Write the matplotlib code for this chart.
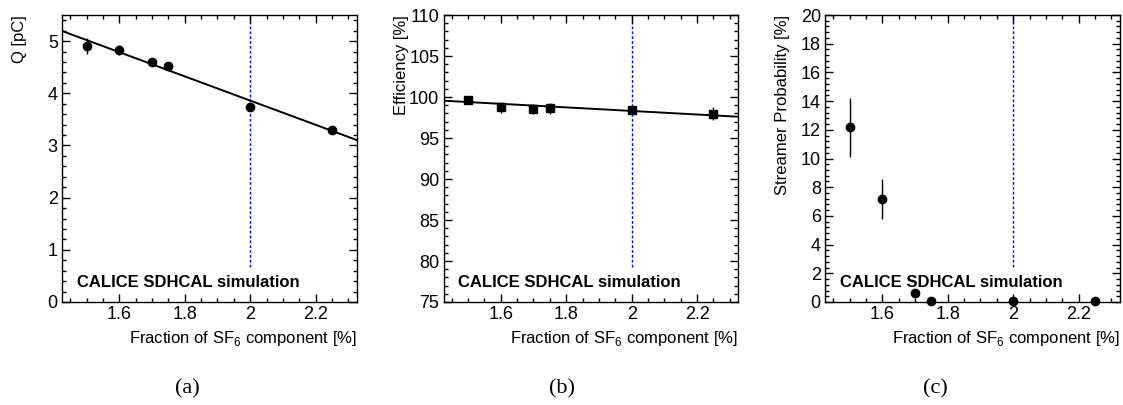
import matplotlib
matplotlib.use("Agg")
import matplotlib.pyplot as plt
import numpy as np
from matplotlib.ticker import MultipleLocator, FormatStrFormatter

plt.rcParams['font.family'] = ['Liberation Sans', 'DejaVu Sans']
plt.rcParams['mathtext.fontset'] = 'custom'
plt.rcParams['mathtext.rm'] = 'Liberation Sans'

# ---- data ----
sf6 = [1.5, 1.6, 1.7, 1.75, 2.0, 2.25]

charge = [4.91, 4.83, 4.60, 4.52, 3.73, 3.30]
charge_err = [0.15, 0.09, 0.08, 0.08, 0.05, 0.04]
charge_fit = [8.50, -2.32]          # intercept, slope

eff = [99.63, 98.74, 98.57, 98.6, 98.4, 97.96]
eff_err = [0.5, 0.7, 0.6, 0.7, 0.5, 0.8]
eff_fit = [102.64, -2.17]

streamer = [12.17, 7.15, 0.65, 0.1, 0.1, 0.1]
streamer_err = [2.05, 1.4, 0.0, 0.0, 0.0, 0.0]

ylabels = ["Q [pC]", "Efficiency [%]", "Streamer Probability [%]"]
xlabel = r"Fraction of SF$_6$ component [%]"
captions = ["(a)", "(b)", "(c)"]
label_text = "CALICE SDHCAL simulation"

xlim = (1.425, 2.325)
ylims = [(0, 5.5), (75, 110), (0, 20)]
ymajor = [1, 5, 2]
yminor = [0.2, 1, 0.4]

fig = plt.figure(figsize=(11.23, 4.05), dpi=100)
W, H = 1123.0, 405.0
lefts = [62, 443.5, 825]
aw = 294.5
top_px, bot_px = 15, 302

axes = []
for i, L in enumerate(lefts):
    ax = fig.add_axes([L / W, (H - bot_px) / H, aw / W, (bot_px - top_px) / H])
    axes.append(ax)
    ax.set_xlim(*xlim)
    ax.set_ylim(*ylims[i])
    ax.xaxis.set_major_locator(MultipleLocator(0.2))
    ax.xaxis.set_minor_locator(MultipleLocator(0.05))
    ax.xaxis.set_major_formatter(FormatStrFormatter('%g'))
    ax.yaxis.set_major_locator(MultipleLocator(ymajor[i]))
    ax.yaxis.set_minor_locator(MultipleLocator(yminor[i]))
    ax.yaxis.set_major_formatter(FormatStrFormatter('%g'))
    ax.tick_params(which='both', direction='in', top=True, right=True,
                   labelsize=13, width=1, colors='black')
    ax.tick_params(which='major', length=5.8, pad=3)
    ax.tick_params(which='minor', length=2.9)
    for s in ax.spines.values():
        s.set_linewidth(1)
    ax.set_ylabel(ylabels[i], fontsize=12, loc='top')
    ax.yaxis.label.set_va('center')
    ax.yaxis.set_label_coords(-42 / aw, 1.0)
    ax.set_xlabel(xlabel, fontsize=12, loc='right', labelpad=4)
    ax.axvline(2.0, ymin=0.123, ymax=1, color='#0000ff', lw=1,
               linestyle=(0, (2, 1.5)), zorder=1)
    ax.text(0.05, 0.052, label_text, transform=ax.transAxes, fontsize=12,
            fontweight='bold', va='baseline', ha='left')
    fig.text((2 * i + 1) / 6.0, 16 / H, captions[i], fontsize=16,
             family='Liberation Serif', ha='center', va='center')

xx = np.array(xlim)
ax = axes[0]
ax.plot(xx, charge_fit[0] + charge_fit[1] * xx, color='black', lw=1.4, zorder=2)
ax.errorbar(sf6, charge, yerr=charge_err, fmt='o', color='black', ms=6,
            elinewidth=1, capsize=0, zorder=3)

ax = axes[1]
ax.plot(xx, eff_fit[0] + eff_fit[1] * xx, color='black', lw=1.4, zorder=2)
ax.errorbar(sf6, eff, yerr=eff_err, fmt='s', color='black', ms=5.5,
            elinewidth=1, capsize=0, zorder=3)

ax = axes[2]
ax.errorbar(sf6, streamer, yerr=streamer_err, fmt='o', color='black', ms=6,
            elinewidth=1, capsize=0, zorder=3, clip_on=False)

fig.savefig("out.png", dpi=100)
